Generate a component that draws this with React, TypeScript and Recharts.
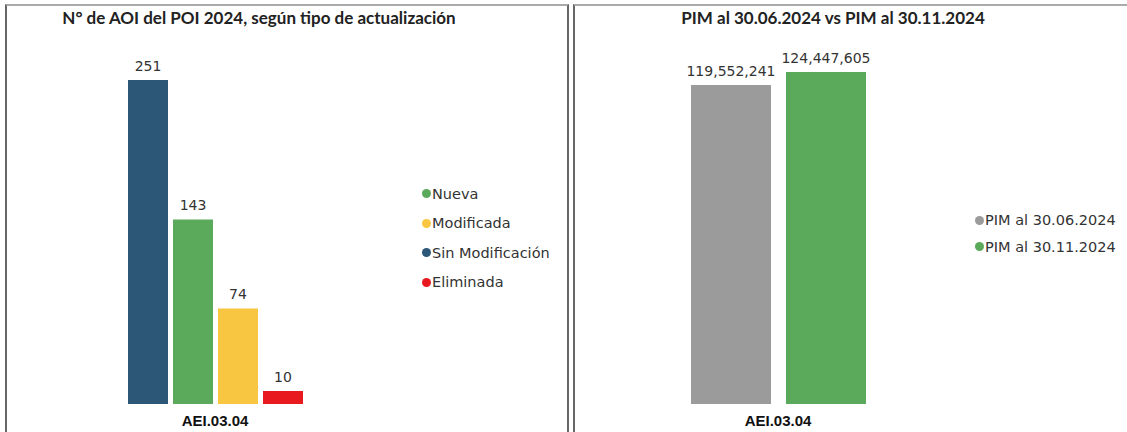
import { BarChart, Bar, XAxis, YAxis, LabelList } from 'recharts';

const categories = ['AEI.03.04'];

const aoiSeries = ['Sin Modificación', 'Nueva', 'Modificada', 'Eliminada'];
const aoiValues = [251, 143, 74, 10];
const aoiColors = ['#2C5777', '#5BAA5C', '#F9C642', '#E8191F'];
const aoiLegendOrder = ['Nueva', 'Modificada', 'Sin Modificación', 'Eliminada'];

const pimSeries = ['PIM al 30.06.2024', 'PIM al 30.11.2024'];
const pimValues = [119552241, 124447605];
const pimColors = ['#9B9B9B', '#5BAA5C'];

const aoiData = categories.map((name) => {
    const row: Record<string, string | number> = { name };
    aoiSeries.forEach((s, i) => (row[s] = aoiValues[i]));
    return row;
});

const pimData = categories.map((name) => {
    const row: Record<string, string | number> = { name };
    pimSeries.forEach((s, i) => (row[s] = pimValues[i]));
    return row;
});

const labelFont = '"DejaVu Sans", sans-serif';
const axisFont = '"Liberation Sans", Arial, sans-serif';
const titleFont = 'Lato, "Open Sans", sans-serif';

const AxisTick = (props: any) => (
    <text x={props.x} y={props.y + 14} textAnchor="middle" fontFamily={axisFont} fontSize={15} fontWeight="bold" fill="#111">
        {props.payload.value}
    </text>
);

function LegendBox({ items, colors, left, top, gap }: { items: string[]; colors: string[]; left: number; top: number; gap: number }) {
    return (
        <div style={{ position: 'absolute', left, top, fontFamily: labelFont, fontSize: 14.5, color: '#333' }}>
            {items.map((it, i) => (
                <div key={it} style={{ display: 'flex', alignItems: 'center', height: gap, whiteSpace: 'nowrap' }}>
                    <span style={{ width: 9, height: 9, borderRadius: '50%', background: colors[i], marginRight: 1, display: 'inline-block' }} />
                    {it}
                </div>
            ))}
        </div>
    );
}

export default function App() {
    return (
        <div style={{ position: 'absolute', left: 0, top: 0, width: 1127, height: 432, overflow: 'hidden', background: '#fff' }}>
            <div style={{ position: 'absolute', left: 5, top: 4, width: 560, height: 440, borderLeft: '2px solid #666', borderRight: '2px solid #666', borderTop: '2px solid #aaa' }} />
            <div style={{ position: 'absolute', left: 573, top: 4, width: 600, height: 440, borderLeft: '2px solid #666', borderTop: '2px solid #aaa' }} />

            <div style={{ position: 'absolute', left: 0, top: 7, width: 518, textAlign: 'center', fontFamily: titleFont, fontWeight: 'bold', fontSize: 17, color: '#222' }}>
                N° de AOI del POI 2024, según tipo de actualización
            </div>
            <div style={{ position: 'absolute', left: 533, top: 7, width: 600, textAlign: 'center', fontFamily: titleFont, fontWeight: 'bold', fontSize: 17, color: '#222' }}>
                PIM al 30.06.2024 vs PIM al 30.11.2024
            </div>

            <div style={{ position: 'absolute', left: 0, top: 0 }}>
                <BarChart width={567} height={432} data={aoiData} margin={{ top: 80, right: 264, bottom: 0, left: 127 }} barCategoryGap={0} barGap={5}>
                    <XAxis dataKey="name" axisLine={false} tickLine={false} height={28} tick={<AxisTick />} interval={0} />
                    <YAxis hide domain={[0, 251]} />
                    {aoiSeries.map((s, i) => (
                        <Bar key={s} dataKey={s} fill={aoiColors[i]} barSize={40} isAnimationActive={false}>
                            <LabelList dataKey={s} position="top" offset={9} fill="#333" fontSize={14} fontFamily={labelFont} />
                        </Bar>
                    ))}
                </BarChart>
            </div>
            <LegendBox items={aoiLegendOrder} colors={aoiLegendOrder.map((n) => aoiColors[aoiSeries.indexOf(n)])} left={422} top={179} gap={29.5} />

            <div style={{ position: 'absolute', left: 572, top: 0 }}>
                <BarChart width={555} height={432} data={pimData} margin={{ top: 72, right: 261, bottom: 0, left: 118 }} barCategoryGap={0} barGap={15}>
                    <XAxis dataKey="name" axisLine={false} tickLine={false} height={28} tick={<AxisTick />} interval={0} />
                    <YAxis hide domain={[0, 124447605]} />
                    {pimSeries.map((s, i) => (
                        <Bar key={s} dataKey={s} fill={pimColors[i]} barSize={80} isAnimationActive={false}>
                            <LabelList dataKey={s} position="top" offset={9} fill="#333" fontSize={14} fontFamily={labelFont} formatter={(v: any) => Number(v).toLocaleString('en-US')} />
                        </Bar>
                    ))}
                </BarChart>
            </div>
            <LegendBox items={pimSeries} colors={pimColors} left={975} top={207} gap={26.5} />
        </div>
    );
}
